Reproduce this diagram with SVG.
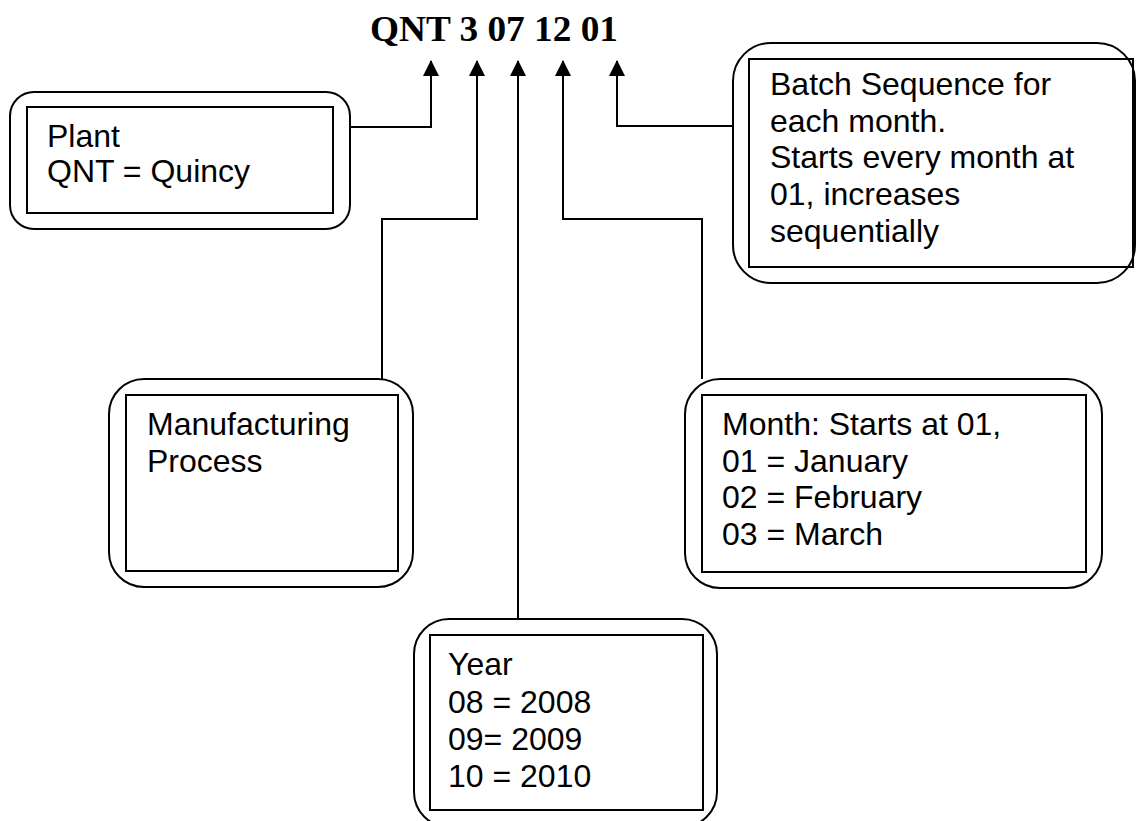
<svg xmlns="http://www.w3.org/2000/svg" width="1136" height="821" viewBox="0 0 1136 821">
<defs>
<marker id="ah" markerUnits="userSpaceOnUse" markerWidth="18" markerHeight="16" viewBox="0 0 16 16" refX="15" refY="8" orient="auto">
<path d="M0,0 L16,8 L0,16 Z" fill="#000"/>
</marker>
<style>
.outer{fill:none;stroke:#000;stroke-width:2}
.inner{fill:none;stroke:#000;stroke-width:2}
.conn{fill:none;stroke:#000;stroke-width:2}
.t{font-family:"Liberation Sans",Arial,sans-serif;font-size:32px;fill:#000}
.title{font-family:"Liberation Serif","Times New Roman",serif;font-size:36px;font-weight:bold;fill:#000}
</style>
</defs>
<rect width="1136" height="821" fill="#fff"/>
<text class="title" x="370" y="41" textLength="248" lengthAdjust="spacingAndGlyphs">QNT 3 07 12 01</text>
<g id="connectors">
<polyline class="conn" points="350,127 431,127 431,61" marker-end="url(#ah)"/>
<polyline class="conn" points="382,379 382,219 477,219 477,61" marker-end="url(#ah)"/>
<polyline class="conn" points="518,619 518,61" marker-end="url(#ah)"/>
<polyline class="conn" points="702,379 702,219 563,219 563,61" marker-end="url(#ah)"/>
<polyline class="conn" points="733,126 617,126 617,61" marker-end="url(#ah)"/>
</g>
<g id="plant">
<rect class="outer" x="10" y="92" width="340" height="137" rx="24"/>
<rect class="inner" x="27" y="107" width="306" height="106"/>
<text class="t" x="47" y="147">Plant</text>
<text class="t" x="47" y="182">QNT = Quincy</text>
</g>
<g id="batch">
<rect class="outer" x="733" y="43" width="402" height="240" rx="38"/>
<rect class="inner" x="749" y="59" width="384" height="208"/>
<text class="t" x="770" y="95">Batch Sequence for</text>
<text class="t" x="770" y="132">each month.</text>
<text class="t" x="770" y="168">Starts every month at</text>
<text class="t" x="770" y="205">01, increases</text>
<text class="t" x="770" y="242">sequentially</text>
</g>
<g id="manufacturing">
<rect class="outer" x="109" y="379" width="304" height="208" rx="35"/>
<rect class="inner" x="126" y="395" width="272" height="176"/>
<text class="t" x="147" y="435">Manufacturing</text>
<text class="t" x="147" y="472">Process</text>
</g>
<g id="month">
<rect class="outer" x="685" y="379" width="417" height="209" rx="35"/>
<rect class="inner" x="702" y="395" width="384" height="177"/>
<text class="t" x="722" y="435">Month: Starts at 01,</text>
<text class="t" x="722" y="472">01 = January</text>
<text class="t" x="722" y="508">02 = February</text>
<text class="t" x="722" y="545">03 = March</text>
</g>
<g id="year">
<rect class="outer" x="414" y="619" width="303" height="208" rx="35"/>
<rect class="inner" x="430" y="635" width="273" height="175"/>
<text class="t" x="448" y="675">Year</text>
<text class="t" x="448" y="713">08 = 2008</text>
<text class="t" x="448" y="750">09= 2009</text>
<text class="t" x="448" y="787">10 = 2010</text>
</g>
</svg>
